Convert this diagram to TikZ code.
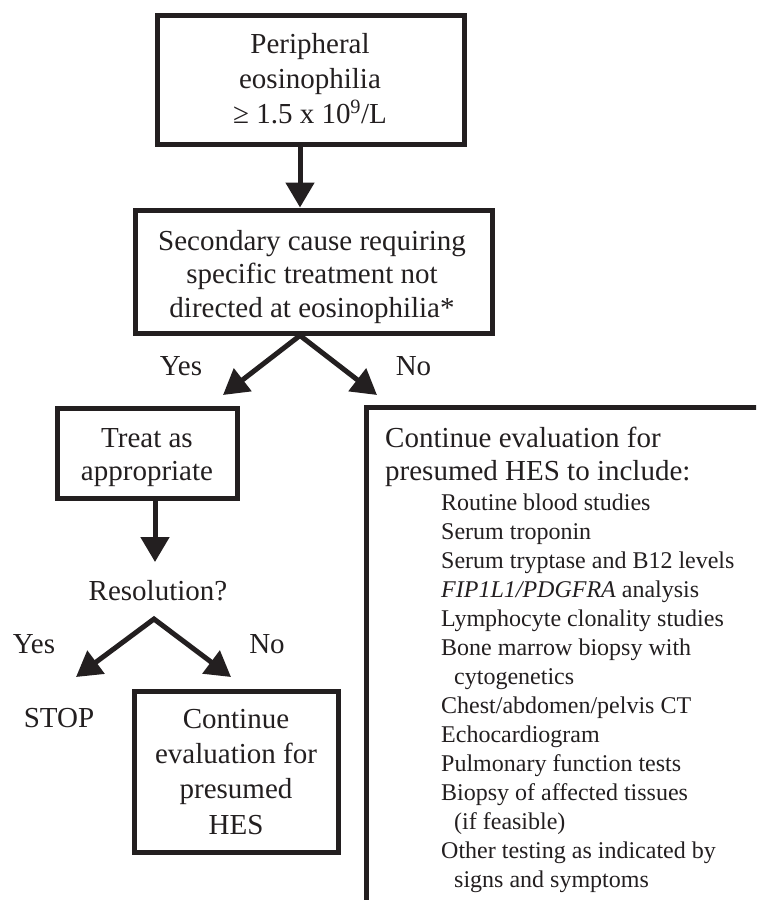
\documentclass[tikz,border=0pt]{standalone}
\usepackage{fontspec}
\setmainfont{Liberation Serif}
\usetikzlibrary{arrows.meta}
\definecolor{ink}{RGB}{35,31,32}
\newcommand{\fsz}[2]{\fontsize{#1}{#2}\selectfont}
\begin{document}
\begin{tikzpicture}[x=1pt,y=-1pt,
  boxst/.style={draw=ink, line width=5pt, inner sep=0pt},
  txt/.style={text=ink, inner sep=0pt, align=center},
  arr/.style={draw=ink, line width=5pt, -{Triangle[length=25pt,width=28pt]}},
  arrs/.style={draw=ink, line width=5pt, line join=miter,
    {Triangle[length=25pt,width=28pt]}-{Triangle[length=25pt,width=28pt]}}]
\useasboundingbox (0,0) rectangle (756,900);
\fill[white] (0,0) rectangle (756,900);
\clip (0,0) rectangle (756,900);

% boxes
\node[boxst, minimum width=307pt, minimum height=129pt] (b1) at (310.5,79.5) {};
\node[txt, font=\fsz{29}{35}] (t1) at (310,81)
  {\strut Peripheral\\eosinophilia\\≥ 1.5 x 10\textsuperscript{9}/L\strut};

\node[boxst, minimum width=357pt, minimum height=123pt] (b2) at (313.5,271.5) {};
\node[txt, font=\fsz{29}{33.5}] (t2) at (312,276.8)
  {\strut Secondary cause requiring\\specific treatment not\\directed at eosinophilia*\strut};

\node[boxst, minimum width=180pt, minimum height=90pt] (b3) at (147.5,453) {};
\node[txt, font=\fsz{29}{33}] (t3) at (147,456.9)
  {\strut Treat as\\appropriate\strut};

\node[boxst, minimum width=204pt, minimum height=161pt] (b4) at (236.5,771.5) {};
\node[txt, font=\fsz{29}{35.3}] (t4) at (236,774)
  {\strut Continue\\evaluation for\\presumed\\HES\strut};

\node[boxst, anchor=north west, minimum width=520pt, minimum height=620pt] (big) at (363.5,405) {};
\node[txt, align=left, anchor=west, font=\fsz{29}{33}] (hdr) at (385,456.9)
  {\strut Continue evaluation for\\presumed HES to include:\strut};
\node[txt, align=left, anchor=west, font=\fsz{24}{29}] (lst) at (441,692.7)
  {\strut Routine blood studies\\
   Serum troponin\\
   Serum tryptase and B12 levels\\
   \textit{FIP1L1/PDGFRA} analysis\\
   Lymphocyte clonality studies\\
   Bone marrow biopsy with\\
   \hspace*{13pt}cytogenetics\\
   Chest/abdomen/pelvis CT\\
   Echocardiogram\\
   Pulmonary function tests\\
   Biopsy of affected tissues\\
   \hspace*{13pt}(if feasible)\\
   Other testing as indicated by\\
   \hspace*{13pt}signs and symptoms\strut};

% labels
\node[txt, anchor=base, font=\fsz{29}{33}] (yes1) at (181,375) {Yes};
\node[txt, anchor=base, font=\fsz{29}{33}] (no1) at (413.5,375) {No};
\node[txt, anchor=base, font=\fsz{29}{33}] (res) at (158,600) {Resolution?};
\node[txt, anchor=base, font=\fsz{29}{33}] (yes2) at (34,653) {Yes};
\node[txt, anchor=base, font=\fsz{29}{33}] (no2) at (267,653) {No};
\node[txt, anchor=base, font=\fsz{29}{33}] (stop) at (59,727) {STOP};

% connectors
\coordinate (ax) at (300,0);
\draw[arr] (b1.south -| ax) -- (b2.north -| ax);
\coordinate (yL) at (223,395);
\coordinate (nR) at (377,395);
\draw[arrs] (yL) -- (b2.south -| ax) -- (nR);
\coordinate (rt) at (155,562);
\draw[arr] (b3.south -| rt) -- (rt);
\coordinate (rA) at (154,619);
\coordinate (rL) at (76,677);
\coordinate (rR) at (231,677);
\draw[arrs] (rL) -- (rA) -- (rR);
\end{tikzpicture}
\end{document}
